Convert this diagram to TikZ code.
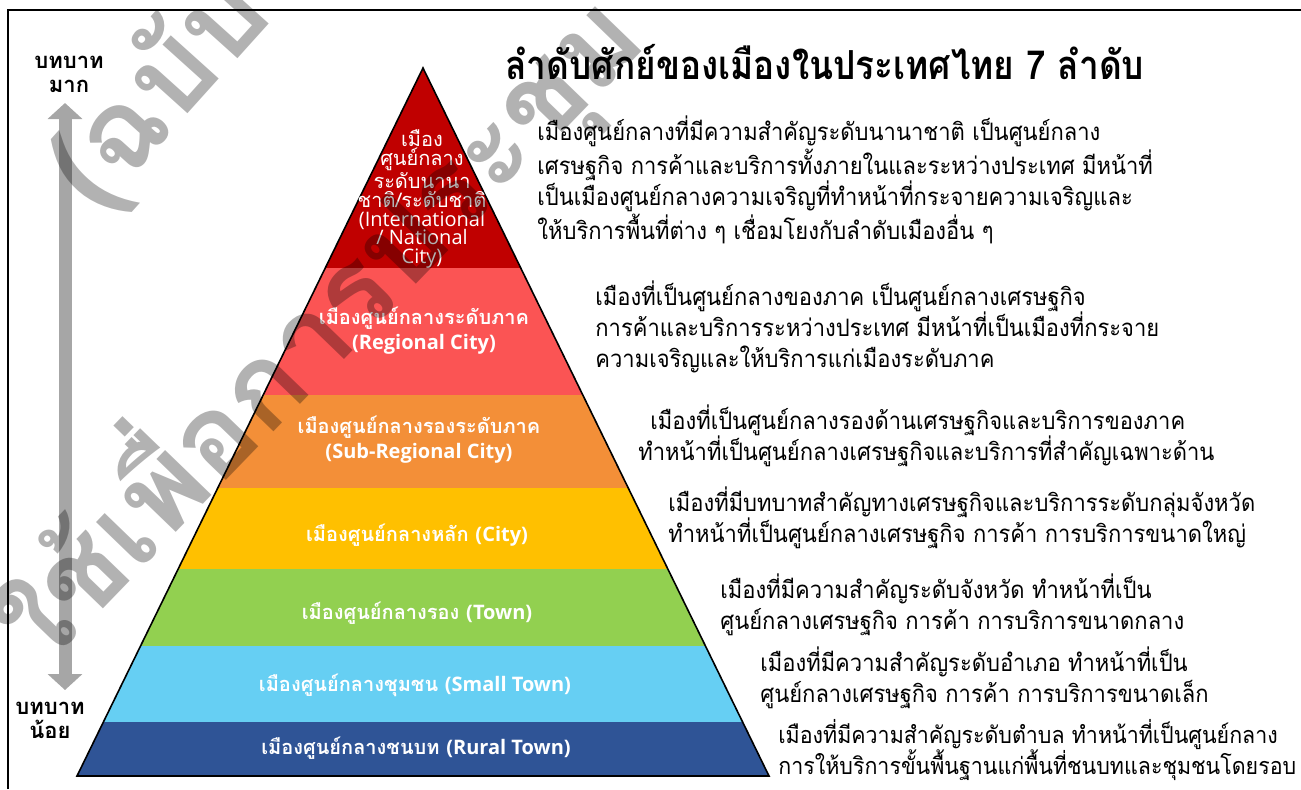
\documentclass[tikz,border=0pt]{standalone}
\usepackage{fontspec}
\usetikzlibrary{arrows.meta}
\newfontfamily\thai[Script=Thai]{Loma}
\newfontfamily\thaicond[Script=Thai,FakeStretch=0.915]{Loma}
\newfontfamily\thaititle[Script=Thai,FakeStretch=0.88]{Loma}
\newfontfamily\latin{Open Sans}
\newcommand{\eng}[1]{{\latin #1}}
\definecolor{lvA}{HTML}{C00000}
\definecolor{lvB}{HTML}{FB5454}
\definecolor{lvC}{HTML}{F38F38}
\definecolor{lvD}{HTML}{FFC000}
\definecolor{lvE}{HTML}{92D050}
\definecolor{lvF}{HTML}{66CFF3}
\definecolor{lvG}{HTML}{2F5496}
\definecolor{rolegray}{HTML}{A6A6A6}
\tikzset{
  lvtext/.style={text=white, inner sep=0, align=center, font=\thai\bfseries\fontsize{10}{12.5}\selectfont},
  desc/.style={anchor=west, inner sep=0, align=left, font=\thaicond\fontsize{12}{15.5}\selectfont},
  role/.style={inner sep=0, align=center, font=\thai\bfseries\fontsize{11}{12}\selectfont},
  wmark/.style={text=black, text opacity=0.3, inner sep=0, anchor=base west, font=\thai\bfseries\fontsize{58}{60}\selectfont}
}
\begin{document}
\begin{tikzpicture}[x=0.5pt,y=-0.5pt]
\useasboundingbox (0,0) rectangle (1301,789);
\draw[line width=1.2pt] (8,789) -- (8,10) -- (1301,10);

\coordinate (apex) at (423,68);
\coordinate (baseL) at (77,776);
\coordinate (baseR) at (769,776);
\begin{scope}
\clip (apex) -- (baseL) -- (baseR) -- cycle;
\fill[lvA] (0,60) rectangle (1301,268);
\fill[lvB] (0,268) rectangle (1301,395);
\fill[lvC] (0,395) rectangle (1301,488);
\fill[lvD] (0,488) rectangle (1301,569);
\fill[lvE] (0,569) rectangle (1301,646);
\fill[lvF] (0,646) rectangle (1301,722);
\fill[lvG] (0,722) rectangle (1301,780);
\end{scope}
\draw[line width=0.8pt] (apex) -- (baseL) -- (baseR) -- cycle;

\node[lvtext, font=\thai\fontsize{10}{9.4}\selectfont] (lv1) at (422,199) {เมือง\\ศูนย์กลาง\\ระดับนานา\\ชาติ/ระดับชาติ\\\eng{(International}\\\eng{/ National}\\\eng{City)}};
\node[lvtext] (lv2) at (424,331) {เมืองศูนย์กลางระดับภาค\\\eng{(Regional City)}};
\node[lvtext] (lv3) at (419,440) {เมืองศูนย์กลางรองระดับภาค\\\eng{(Sub-Regional City)}};
\node[lvtext] (lv4) at (417,535) {เมืองศูนย์กลางหลัก \eng{(City)}};
\node[lvtext] (lv5) at (417,613) {เมืองศูนย์กลางรอง \eng{(Town)}};
\node[lvtext] (lv6) at (415,685) {เมืองศูนย์กลางชุมชน \eng{(Small Town)}};
\node[lvtext] (lv7) at (416,748) {เมืองศูนย์กลางชนบท \eng{(Rural Town)}};

\node[anchor=west, inner sep=0, font=\thaititle\bfseries\fontsize{20}{24}\selectfont] (title) at (505,62) {ลำดับศักย์ของเมืองในประเทศไทย 7 ลำดับ};

\node[desc] (d1) at (537,180) {เมืองศูนย์กลางที่มีความสำคัญระดับนานาชาติ เป็นศูนย์กลาง\\เศรษฐกิจ การค้าและบริการทั้งภายในและระหว่างประเทศ มีหน้าที่\\เป็นเมืองศูนย์กลางความเจริญที่ทำหน้าที่กระจายความเจริญและ\\ให้บริการพื้นที่ต่าง ๆ เชื่อมโยงกับลำดับเมืองอื่น ๆ};
\node[desc] (d2) at (595,327) {เมืองที่เป็นศูนย์กลางของภาค เป็นศูนย์กลางเศรษฐกิจ\\การค้าและบริการระหว่างประเทศ มีหน้าที่เป็นเมืองที่กระจาย\\ความเจริญและให้บริการแก่เมืองระดับภาค};
\node[desc] (d3) at (638,436) {\hspace{6pt}เมืองที่เป็นศูนย์กลางรองด้านเศรษฐกิจและบริการของภาค\\ทำหน้าที่เป็นศูนย์กลางเศรษฐกิจและบริการที่สำคัญเฉพาะด้าน};
\node[desc] (d4) at (668,518) {เมืองที่มีบทบาทสำคัญทางเศรษฐกิจและบริการระดับกลุ่มจังหวัด\\ทำหน้าที่เป็นศูนย์กลางเศรษฐกิจ การค้า การบริการขนาดใหญ่};
\node[desc] (d5) at (720,605) {เมืองที่มีความสำคัญระดับจังหวัด ทำหน้าที่เป็น\\ศูนย์กลางเศรษฐกิจ การค้า การบริการขนาดกลาง};
\node[desc] (d6) at (760,678) {เมืองที่มีความสำคัญระดับอำเภอ ทำหน้าที่เป็น\\ศูนย์กลางเศรษฐกิจ การค้า การบริการขนาดเล็ก};
\node[desc, font=\thaicond\fontsize{11.7}{15.5}\selectfont] (d7) at (778,750) {เมืองที่มีความสำคัญระดับตำบล ทำหน้าที่เป็นศูนย์กลาง\\การให้บริการขั้นพื้นฐานแก่พื้นที่ชนบทและชุมชนโดยรอบ};

\node[role] (roleHi) at (69,74) {บทบาท\\มาก};
\node[role] (roleLo) at (50,720) {บทบาท\\น้อย};
\coordinate (roleTop) at (65,103);
\coordinate (roleBot) at (65,690);
\draw[rolegray, line width=6.5pt, {Triangle[width=17pt,length=8pt]}-{Triangle[width=17pt,length=8pt]}] (roleBot) -- (roleTop);

\node[wmark, rotate=48] (wmA) at (97,215) {(ฉบับ};
\node[wmark, rotate=46] (wmB) at (43,671) {ใช้เพื่อการประชุม};
\end{tikzpicture}
\end{document}
